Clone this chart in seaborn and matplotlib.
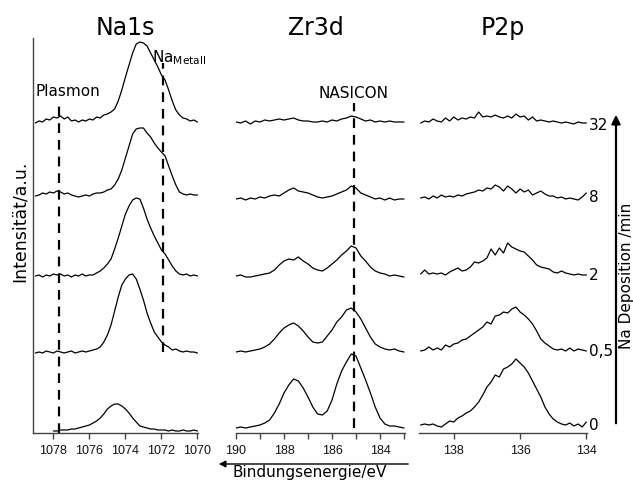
import numpy as np
import pandas as pd
import matplotlib
matplotlib.use("Agg")
import matplotlib.pyplot as plt
import seaborn as sns

sns.set_style("ticks")
plt.rcParams["font.family"] = ["DejaVu Sans"]
plt.rcParams["text.color"] = "black"
plt.rcParams["lines.scale_dashes"] = False

# ---------------- data ----------------
deposition_labels = ["0", "0,5", "2", "8", "32"]

# Na1s: energies 1079.0 -> 1070.0, step 0.2 eV
na_energy = np.round(np.arange(1079.0, 1069.9, -0.2), 2)
na_0 = [np.nan, np.nan, np.nan, np.nan, np.nan, 0, 0, 1, 1, 1, 2, 2, 3, 4, 5, 6, 8, 10, 13, 17,
        22, 25, 27, 27, 25, 22, 18, 13, 9, 5, 4, 3, 2, 2, 1, 1, 1, 0, 1, 0, 0, 1, 0, 0, 1, 0]
na_05 = [0, 1, 0, 2, 1, 0, 2, 1, 0, 1, 2, 0, 1, 2, 1, 2, 3, 4, 6, 11,
         18, 28, 42, 56, 68, 74, 78, 79, 74, 64, 53, 40, 30, 21, 16, 11, 8, 6, 3, 4, 2, 1, 2, 1, 1, 0]
na_2 = [0, 1, -1, 1, 0, 2, 1, 2, 0, 1, -1, 1, 0, 2, 0, 1, 1, 3, 5, 8,
        12, 17, 27, 38, 50, 62, 70, 76, 78, 77, 68, 57, 48, 40, 33, 26, 22, 16, 10, 5, 2, 1, 2, 0, 1, 0]
na_8 = [0, 1, 3, 2, 4, 3, 5, 4, 2, 3, 1, 0, -1, 0, 1, 0, 2, 3, 3, 4,
        6, 7, 11, 17, 26, 38, 50, 62, 67, 68, 68, 63, 59, 53, 48, 44, 40, 30, 20, 11, 4, 2, 1, 2, 1, 1]
na_32 = [0, 2, 1, 4, 3, 6, 5, 7, 4, 6, 2, 3, 1, 3, 2, 4, 3, 6, 5, 8,
         9, 11, 14, 22, 33, 46, 58, 70, 79, 81, 80, 77, 70, 63, 56, 48, 43, 33, 22, 13, 8, 5, 4, 2, 3, 1]

# Zr3d: energies 190.0 -> 183.0, step 0.2 eV
zr_energy = np.round(np.arange(190.0, 182.9, -0.2), 2)
zr_0 = [0, 1, 0, 1, 2, 3, 5, 8, 15, 24, 35, 43, 49, 47, 40, 31, 21, 14, 13, 17,
        28, 44, 57, 66, 74, 72, 60, 48, 35, 21, 10, 4, 2, 2, 1, 0]
zr_05 = [0, 1, 0, 1, 2, 3, 5, 8, 13, 19, 24, 27, 29, 26, 21, 15, 10, 9, 10, 16,
         22, 30, 35, 42, 44, 40, 33, 24, 15, 8, 5, 3, 2, 3, 1, 0]
zr_2 = [0, 1, -1, -1, 0, 1, 2, 3, 6, 11, 15, 17, 16, 19, 15, 12, 8, 6, 5, 8,
        12, 16, 21, 25, 30, 28, 20, 15, 9, 5, 3, 2, 0, 1, 0, -1]
zr_8 = [0, 1, -1, 1, 0, 2, 1, 3, 4, 3, 6, 9, 11, 8, 7, 6, 4, 2, 1, 2,
        3, 5, 7, 9, 13, 11, 6, 4, 2, 0, 1, -1, 1, -1, 0, 0]
zr_32 = [0, -1, 1, -2, 1, 0, 2, 1, 2, 3, 2, 3, 4, 2, 1, 1, 0, 0, 1, 0,
         2, 1, 3, 4, 6, 5, 3, 1, 2, 0, 1, 0, 1, 0, 0, 0]

# P2p: energies 139.0 -> 134.0, step 0.125 eV
p_energy = np.round(np.arange(139.0, 133.99, -0.125), 3)
p_0 = [0, 1, 0, 1, -1, -2, 1, 4, 3, 7, 9, 12, 14, 18, 23, 30, 38, 43, 50, 48,
       56, 58, 61, 66, 62, 58, 52, 44, 36, 28, 18, 11, 6, 3, 1, 0, 2, -1, 1, -2, 3]
p_05 = [0, 1, 4, 1, 3, 1, 6, 4, 7, 8, 11, 12, 15, 18, 21, 24, 29, 27, 35, 36,
        39, 38, 42, 44, 39, 36, 32, 27, 20, 12, 8, 5, 2, 1, 2, 0, 3, 0, 2, 1, 0]
p_2 = [1, 5, 1, 2, 1, 2, 0, 3, 5, 7, 4, 5, 8, 13, 12, 14, 17, 26, 20, 27,
       22, 32, 28, 26, 24, 23, 19, 15, 10, 8, 7, 6, 3, 2, 4, 2, 1, 0, 1, 0, 0]
p_8 = [0, 1, -1, 2, 0, 3, 1, 2, 1, 3, 2, 4, 5, 6, 8, 7, 10, 9, 13, 11,
       7, 12, 9, 5, 9, 6, 8, 3, 5, 7, 4, 2, 2, 0, 1, -1, 0, -1, -2, 1, 5]
p_32 = [0, 2, 1, 4, 2, 1, 5, 2, 6, 3, 5, 4, 6, 5, 11, 6, 7, 6, 8, 6,
        5, 7, 5, 9, 6, 7, 3, 6, 2, 3, 2, 1, 2, 1, 0, 1, 0, -1, 1, 0, 0]

panels = {
    "Na1s": (na_energy, [na_0, na_05, na_2, na_8, na_32]),
    "Zr3d": (zr_energy, [zr_0, zr_05, zr_2, zr_8, zr_32]),
    "P2p": (p_energy, [p_0, p_05, p_2, p_8, p_32]),
}

# reference line energies
plasmon_e = 1077.7
metall_e = 1071.9
nasicon_e = 185.1

# ---------------- layout ----------------
W, H = 633, 482
fig = plt.figure(figsize=(W / 100, H / 100), dpi=100)

def px_axes(x0, x1, ytop=38, ybot=433):
    return fig.add_axes([x0 / W, 1 - ybot / H, (x1 - x0) / W, (ybot - ytop) / H])

offsets = {
    "Na1s": [2, 80, 157, 237, 310],
    "Zr3d": [5, 81, 157, 234, 311],
    "P2p": [8, 82, 158, 235, 310],
}

ax_na = px_axes(32.7, 198)
ax_zr = px_axes(236, 404.5)
ax_p = px_axes(419.3, 586.7)
axes = {"Na1s": ax_na, "Zr3d": ax_zr, "P2p": ax_p}
xlims = {"Na1s": (1079.15, 1069.97), "Zr3d": (190.0, 182.98), "P2p": (139.04, 133.99)}

rows = []
for name, (energy, spectra) in panels.items():
    for lab, spec, off in zip(deposition_labels, spectra, offsets[name]):
        for e, v in zip(energy, spec):
            rows.append((name, lab, e, v + off))
df = pd.DataFrame(rows, columns=["panel", "deposition", "energy", "y"]).dropna()

for name, ax in axes.items():
    sub = df[df.panel == name]
    sns.lineplot(data=sub, x="energy", y="y", units="deposition", estimator=None,
                 sort=False, color="black", lw=0.9, legend=False, ax=ax)
    ax.set_xlim(*xlims[name])
    ax.set_ylim(0, 395)
    ax.set_xlabel("")
    ax.set_ylabel("")
    ax.set_yticks([])
    for s in ["top", "right"]:
        ax.spines[s].set_visible(False)
    if name != "Na1s":
        ax.spines["left"].set_visible(False)
    for s in ax.spines.values():
        s.set_color("#444444")
        s.set_linewidth(1.0)
    ax.tick_params(axis="x", direction="out", length=4, width=1.0, color="#444444",
                   pad=5, labelcolor="#111111")
    ax.patch.set_alpha(0)

ax_na.set_xticks([1078, 1076, 1074, 1072, 1070])
ax_zr.set_xticks([190, 188, 186, 184])
ax_zr.set_xticks([189, 187, 185, 183], minor=True)
ax_zr.tick_params(axis="x", which="minor", direction="out", length=4, width=1.0, color="#444444")
ax_p.set_xticks([138, 136, 134])
for ax in axes.values():
    for lbl in ax.get_xticklabels():
        lbl.set_fontfamily("Liberation Sans")
        lbl.set_fontsize(9)

# dashed reference lines
dash = dict(color="black", lw=1.6, dashes=(7, 5))
ax_na.plot([plasmon_e, plasmon_e], [0, 331], **dash)
ax_na.plot([metall_e, metall_e], [81, 370], **dash)
ax_zr.plot([nasicon_e, nasicon_e], [5, 330], **dash)

ax_na.text(1077.18, 341, "Plasmon", ha="center", va="center", fontsize=11)
ax_na.text(1072.55, 371, r"Na$_{\mathregular{Metall}}$", ha="left", va="baseline", fontsize=11)
ax_zr.text(185.12, 340, "NASICON", ha="center", va="center", fontsize=11)

# titles
for t, xc in [("Na1s", 125), ("Zr3d", 316), ("P2p", 503)]:
    fig.text(xc / W, 1 - 28 / H, t, ha="center", va="center", fontsize=17)

# deposition labels on right
for lab, yc in zip(deposition_labels, [425, 351, 275, 197, 125]):
    fig.text(589 / W, 1 - yc / H, lab, ha="left", va="center", fontsize=11)

# axis labels
fig.text(20 / W, 1 - 221 / H, "Intensität/a.u.", rotation=90, ha="center", va="center", fontsize=12.5)
fig.text(627 / W, 1 - 276 / H, "Na Deposition /min", rotation=90, ha="center", va="center", fontsize=11)
fig.text(310 / W, 1 - 473 / H, "Bindungsenergie/eV", ha="center", va="center", fontsize=11)

# arrows
fig.patches.append(matplotlib.patches.FancyArrowPatch(
    (616 / W, 1 - 426 / H), (616 / W, 1 - 112 / H), transform=fig.transFigure,
    arrowstyle="-|>", mutation_scale=13, lw=1.6, color="black"))
fig.patches.append(matplotlib.patches.FancyArrowPatch(
    (411 / W, 1 - 464 / H), (216 / W, 1 - 464 / H), transform=fig.transFigure,
    arrowstyle="-|>", mutation_scale=10, lw=1.0, color="black"))

fig.savefig("out.png", dpi=100)
